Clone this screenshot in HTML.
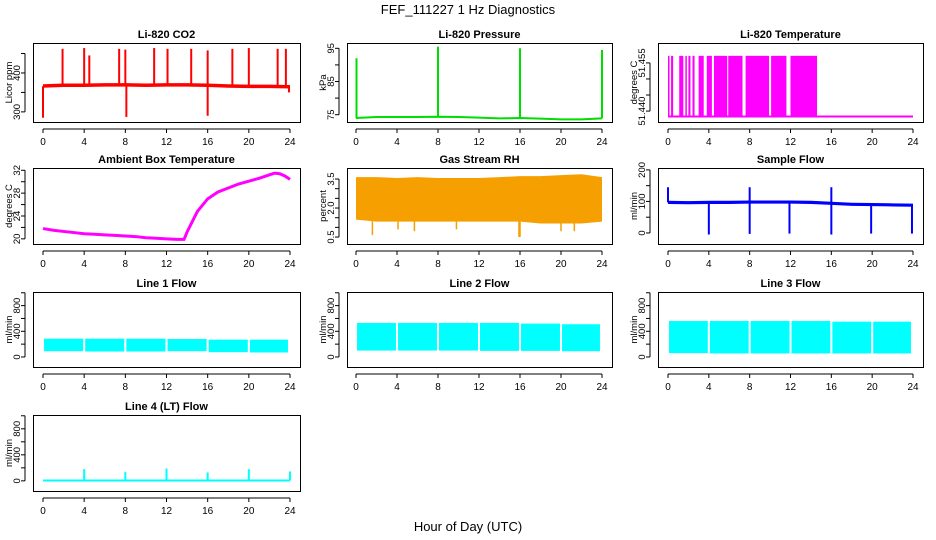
<!DOCTYPE html>
<html><head><meta charset="utf-8"><style>
body{margin:0;background:#fff;}
svg{display:block;font-family:"Liberation Sans",sans-serif;}
</style></head><body>
<svg id="chart" width="936" height="540" viewBox="0 0 936 540">
<text x="468" y="14" text-anchor="middle" font-size="13">FEF_111227  1 Hz Diagnostics</text>
<text x="468" y="531" text-anchor="middle" font-size="13">Hour of Day (UTC)</text>
</svg>
<script>
// ---- data (hours of day) ----
const xTicks=[0,4,8,12,16,20,24];
// CO2
const co2Hours=[0,2,4,6,8,10,12,14,16,18,20,22,24];
const co2Base=[366,368,368,369,369,368,369,369,368,366,365,365,364];
const co2SpikeHours=[1.9,4.0,4.5,7.4,8.0,10.8,12.1,14.4,16.0,18.4,20.0,22.8,23.6];
const co2SpikeVals=[462,464,445,462,460,464,462,462,458,462,464,462,462];
const co2DipHours=[0.0,8.1,16.0,23.9];
const co2DipVals=[285,287,290,350];
// Pressure
const presHours=[0,2,4,6,8,10,12,14,16,18,20,22,24];
const presBase=[74.0,74.3,74.3,74.3,74.4,74.3,74.1,73.9,74.0,73.8,73.6,73.6,73.9];
const presSpikeHours=[0.05,8.0,16.0,24.0];
const presSpikeVals=[92,95.5,95,94.5];
// Li-820 temperature: intervals of toggling to the high value
const tempLow=51.4383, tempHigh=51.4572;
const tempStarts=[0.0,0.3,1.1,1.7,2.0,2.4,3.0,3.8,4.5,5.9,7.6,10.1,12.0];
const tempEnds=[0.1,0.5,1.5,1.8,2.2,2.6,3.5,4.3,5.8,7.3,9.9,11.6,14.6];
// Ambient box temperature
const ambHours=[0,1,2,3,4,5,6,7,8,9,10,11,12,13,13.7,14,15,16,17,18,19,20,21,22,22.5,23,23.5,24];
const ambVals=[21.8,21.5,21.3,21.1,20.9,20.8,20.7,20.6,20.5,20.4,20.2,20.1,20.0,19.9,19.9,21.2,24.8,27.0,28.2,28.9,29.6,30.1,30.6,31.2,31.5,31.4,31.0,30.4];
// Gas stream RH envelope
const rhHours=[0,2,4,6,8,10,12,14,16,18,20,22,24];
const rhUpper=[3.6,3.6,3.55,3.6,3.55,3.55,3.55,3.6,3.65,3.65,3.7,3.75,3.6];
const rhLower=[1.4,1.3,1.3,1.3,1.3,1.3,1.3,1.3,1.3,1.2,1.2,1.2,1.3];
const rhDipHours=[1.6,4.1,5.7,9.8,15.9,16.0,20.0,21.3];
const rhDipVals=[0.6,0.9,0.8,0.9,0.5,0.5,0.8,0.8];
// Sample flow
const sfHours=[0,2,4,6,8,10,12,14,16,18,20,22,24];
const sfBase=[97,96,97,97,98,98,98,97,94,91,90,89,88];
const sfDipHours=[4.0,8.0,11.9,16.0,19.9,23.9];
const sfDipVals=[-5,-3,-2,-5,-2,-2];
const sfSpikeHours=[0.0,8.0,16.0];
const sfSpikeVals=[145,145,145];
// Line flows (band low/high per 4-hour block)
const blockStarts=[0.1,4.1,8.1,12.1,16.1,20.1];
const blockEnds=[3.9,7.9,11.9,15.9,19.9,23.8];
const l1Low=[90,85,85,90,75,70];
const l1High=[285,285,285,280,270,270];
const l2Low=[100,100,100,95,95,90];
const l2High=[530,530,530,530,520,510];
const l3Low=[60,55,55,55,55,55];
const l3High=[560,560,560,560,550,550];
const l4SpikeHours=[4.0,8.0,12.0,16.0,20.0,24.0];
const l4SpikeVals=[180,135,190,130,180,145];
const l4Base=5;

// ---- layout ----
const NS="http://www.w3.org/2000/svg";
const svg=document.getElementById('chart');
const cols=[{l:33,r:300,x0:43,x1:290},{l:347,r:612,x0:356,x1:602},{l:658,r:923,x0:668,x1:913}];
const rows=[{t:43,b:122},{t:168,b:244},{t:292,b:367},{t:415,b:491}];
function el(tag,attrs,parent){const e=document.createElementNS(NS,tag);for(const k in attrs)e.setAttribute(k,attrs[k]);(parent||svg).appendChild(e);return e;}

function panel(name,title,ci,ri,ymin,ymax,yticks,ylabels,ytitle){
  const c=cols[ci],r=rows[ri];
  const g=el('g',{});
  
  
  const X=h=>c.x0+(c.x1-c.x0)*h/24;
  const Y=v=>r.b-(r.b-r.t)*(v-ymin)/(ymax-ymin);
  const t=el('text',{x:(c.l+c.r)/2,y:r.t-5,'text-anchor':'middle','font-size':11,'font-weight':'bold'},g);
  t.textContent=title;
  
  
  const box=el('rect',{x:c.l+0.5,y:r.t+0.5,width:c.r-c.l,height:r.b-r.t,fill:'none',stroke:'#000'},g);
  
  
  const xa=el('g',{},g);
  
  
  const ab=r.b+7;
  el('line',{x1:X(0),x2:X(24),y1:ab,y2:ab,stroke:'#000'},xa);
  xTicks.forEach(h=>{
    el('line',{x1:X(h),x2:X(h),y1:ab,y2:ab+4,stroke:'#000'},xa);
    const tx=el('text',{x:X(h),y:ab+16,'text-anchor':'middle','font-size':10},xa);
    tx.textContent=h;
  });
  const ya=el('g',{},g);
  
  
  const ax=c.l-8;
  el('line',{x1:ax,x2:ax,y1:Y(yticks[0]),y2:Y(yticks[yticks.length-1]),stroke:'#000'},ya);
  yticks.forEach((v,i)=>{
    el('line',{x1:ax-4,x2:ax,y1:Y(v),y2:Y(v),stroke:'#000'},ya);
    if(ylabels[i]){const lx=ax-5;const tx=el('text',{x:lx,y:Y(v),'text-anchor':'middle','font-size':9.5,transform:`rotate(-90 ${lx} ${Y(v)})`},ya);tx.textContent=ylabels[i];}
  });
  const tX=c.l-21;
  const yt=el('text',{x:tX,y:(r.t+r.b)/2,'text-anchor':'middle','font-size':9.5,transform:`rotate(-90 ${tX} ${(r.t+r.b)/2})`},g);
  yt.textContent=ytitle;
  
  
  const d=el('g',{},g);
  
  
  return {X,Y,d};
}
function poly(p,hs,vs,color,w){return el('polyline',{points:hs.map((h,i)=>p.X(h)+','+p.Y(vs[i])).join(' '),fill:'none',stroke:color,'stroke-width':w},p.d);}
function spikes(p,hs,vs,base,color,w){hs.forEach((h,i)=>{
  const b=typeof base==='number'?base:base(h);
  el('line',{x1:p.X(h),x2:p.X(h),y1:p.Y(b),y2:p.Y(vs[i]),stroke:color,'stroke-width':w},p.d);});}
function interp(hs,vs){return h=>{for(let i=1;i<hs.length;i++){if(h<=hs[i]){const f=(h-hs[i-1])/(hs[i]-hs[i-1]);return vs[i-1]+f*(vs[i]-vs[i-1]);}}return vs[vs.length-1];};}

// CO2
let p=panel('co2','Li-820 CO2',0,0,274,477,[300,350,400,450],['300','','400',''],'Licor ppm');
el('polygon',{points:co2Hours.map((h,i)=>p.X(h)+','+p.Y(co2Base[i]+5)).concat(co2Hours.slice().reverse().map((h,i)=>p.X(h)+','+p.Y(co2Base[co2Base.length-1-i]-4))).join(' '),fill:'#f00'},p.d);
spikes(p,co2SpikeHours,co2SpikeVals,interp(co2Hours,co2Base),'#f00',2);
spikes(p,co2DipHours,co2DipVals,interp(co2Hours,co2Base),'#f00',2);

// Pressure
p=panel('pressure','Li-820 Pressure',1,0,72.8,96.6,[75,80,85,90,95],['75','','85','','95'],'kPa');
poly(p,presHours,presBase,'#00dd00',2);
spikes(p,presSpikeHours,presSpikeVals,interp(presHours,presBase),'#00dd00',2);

// Li-820 temperature
p=panel('li820-temp','Li-820 Temperature',2,0,51.4366,51.4612,[51.440,51.445,51.450,51.455],['51.440','','','51.455'],'degrees C');
el('line',{x1:p.X(0),x2:p.X(24),y1:p.Y(tempLow),y2:p.Y(tempLow),stroke:'#f0f','stroke-width':2},p.d);
tempStarts.forEach((s,i)=>{el('rect',{x:p.X(s),y:p.Y(tempHigh),width:Math.max(1.5,p.X(tempEnds[i])-p.X(s)),height:p.Y(tempLow)-p.Y(tempHigh),fill:'#f0f'},p.d);});

// Ambient
p=panel('ambient-temp','Ambient Box Temperature',0,1,19.1,32.4,[20,22,24,26,28,30,32],['20','','24','','28','','32'],'degrees C');
poly(p,ambHours,ambVals,'#f0f',3);

// RH
p=panel('gas-rh','Gas Stream RH',1,1,0.14,4.07,[0.5,1,1.5,2,2.5,3,3.5],['0.5','','','2.0','','','3.5'],'percent');
el('polygon',{points:rhHours.map((h,i)=>p.X(h)+','+p.Y(rhUpper[i])).concat(rhHours.slice().reverse().map((h,i)=>p.X(h)+','+p.Y(rhLower[rhLower.length-1-i]))).join(' '),fill:'#f5a000'},p.d);
spikes(p,rhDipHours,rhDipVals,interp(rhHours,rhLower),'#f5a000',1.5);

// Sample flow
p=panel('sample-flow','Sample Flow',2,1,-35,206,[0,50,100,150,200],['0','','100','','200'],'ml/min');
el('polygon',{points:sfHours.map((h,i)=>p.X(h)+','+p.Y(sfBase[i]+5)).concat(sfHours.slice().reverse().map((h,i)=>p.X(h)+','+p.Y(sfBase[sfBase.length-1-i]-5))).join(' '),fill:'#00f'},p.d);
spikes(p,sfDipHours,sfDipVals,interp(sfHours,sfBase),'#00f',2);
spikes(p,sfSpikeHours,sfSpikeVals,interp(sfHours,sfBase),'#00f',2);

// Line flows
const fT=[0,200,400,600,800,1000],fL=['0','','400','','800',''];
function band(p,lo,hi){blockStarts.forEach((s,i)=>{el('rect',{x:p.X(s),y:p.Y(hi[i]),width:p.X(blockEnds[i])-p.X(s),height:p.Y(lo[i])-p.Y(hi[i]),fill:'#0ff'},p.d);});}
p=panel('line1-flow','Line 1 Flow',0,2,-156,1012,fT,fL,'ml/min'); band(p,l1Low,l1High);
p=panel('line2-flow','Line 2 Flow',1,2,-156,1012,fT,fL,'ml/min'); band(p,l2Low,l2High);
p=panel('line3-flow','Line 3 Flow',2,2,-156,1012,fT,fL,'ml/min'); band(p,l3Low,l3High);
p=panel('line4-flow','Line 4 (LT) Flow',0,3,-156,1012,fT,fL,'ml/min');
el('line',{x1:p.X(0),x2:p.X(24),y1:p.Y(l4Base),y2:p.Y(l4Base),stroke:'#0ff','stroke-width':2},p.d);
spikes(p,l4SpikeHours,l4SpikeVals,l4Base,'#0ff',2);
</script>
</body></html>
